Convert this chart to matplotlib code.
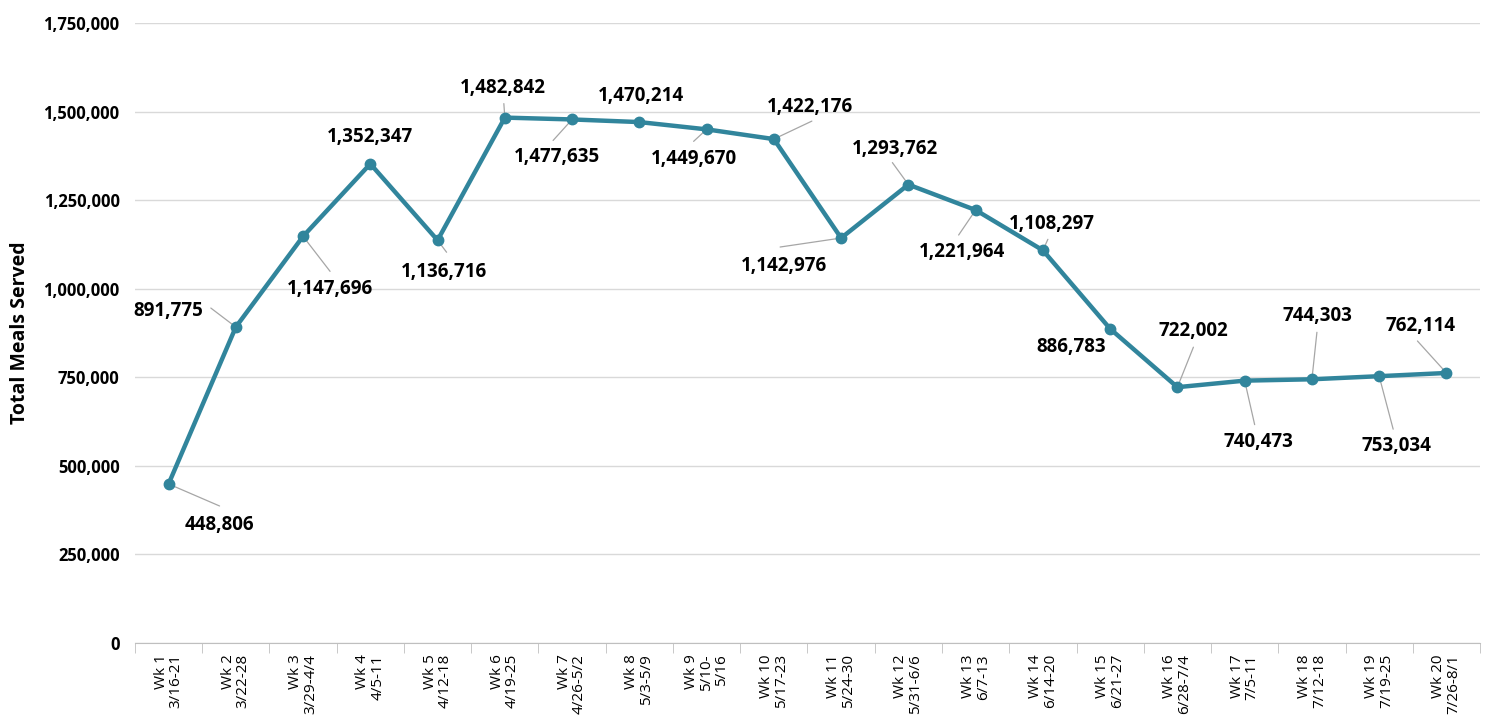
import matplotlib.pyplot as plt
from matplotlib.ticker import FuncFormatter, MultipleLocator

weeks = ["Wk 1\n3/16-21", "Wk 2\n3/22-28", "Wk 3\n3/29-4/4", "Wk 4\n4/5-11",
         "Wk 5\n4/12-18", "Wk 6\n4/19-25", "Wk 7\n4/26-5/2", "Wk 8\n5/3-5/9",
         "Wk 9\n5/10-\n5/16", "Wk 10\n5/17-23", "Wk 11\n5/24-30", "Wk 12\n5/31-6/6",
         "Wk 13\n6/7-13", "Wk 14\n6/14-20", "Wk 15\n6/21-27", "Wk 16\n6/28-7/4",
         "Wk 17\n7/5-11", "Wk 18\n7/12-18", "Wk 19\n7/19-25", "Wk 20\n7/26-8/1"]
meals = [448806, 891775, 1147696, 1352347, 1136716, 1482842, 1477635, 1470214,
         1449670, 1422176, 1142976, 1293762, 1221964, 1108297, 886783, 722002,
         740473, 744303, 753034, 762114]

# label placement (pixel offsets from the point): label centre, leader-line end
label_off = [(51, -41), (-68, 16), (27, -53), (0, 27), (6, -32), (-2, 30), (-15, -38),
             (2, 26), (-13, -30), (36, 32), (-57, -28), (-13, 36), (-14, -42), (9, 26),
             (-39, -18), (16, 56), (14, -61), (6, 63), (17, -70), (-26, 47)]
leader_off = [(51, -22), (-25, 19), (27, -35), None, (9, -12), (-1, 14), (-19, -21),
              None, (-13, -12), (38, 18), (-61, -9), (-16, 22), (-17, -25), (5, 11),
              None, (16, 40), (10, -44), (5, 47), (14, -53), (-29, 32)]

line_color = "#31859C"
plt.rcParams['font.family'] = ['Open Sans', 'DejaVu Sans']

fig = plt.figure(figsize=(14.86, 7.17), dpi=100)
ax = fig.add_axes([0.0908, 0.1032, 0.9052, 0.8648])

x = list(range(len(meals)))
ax.plot(x, meals, color=line_color, linewidth=3.2, marker='o', markersize=7.5, zorder=3)

for i, v in enumerate(meals):
    if leader_off[i] is not None:
        ax.annotate("", xy=(i, v), xytext=leader_off[i], textcoords='offset pixels',
                    arrowprops=dict(arrowstyle='-', color='#A6A6A6', lw=0.9,
                                    shrinkA=0, shrinkB=3), zorder=2)
    ax.annotate(f"{v:,}", xy=(i, v), xytext=label_off[i], textcoords='offset pixels',
                ha='center', va='center', fontsize=13.5, fontweight='bold', color='black')

ax.set_ylim(0, 1750000)
ax.set_xlim(-0.5, len(meals) - 0.5)
ax.yaxis.set_major_locator(MultipleLocator(250000))
ax.yaxis.set_major_formatter(FuncFormatter(lambda v, p: f"{int(v):,}"))
ax.grid(axis='y', color='#D9D9D9', linewidth=1)
ax.set_axisbelow(True)

ax.set_xticks(x)
ax.set_xticklabels(weeks, rotation=90, ha='center', va='top', multialignment='right',
                   fontsize=11, linespacing=1.0)
ax.set_xticks([i - 0.5 for i in range(len(meals) + 1)], minor=True)
ax.tick_params(axis='x', which='major', length=0, pad=8)
ax.tick_params(axis='x', which='minor', length=7, color='#BFBFBF')
ax.tick_params(axis='y', length=0, pad=11, labelsize=12)
for lab in ax.get_yticklabels():
    lab.set_fontweight('bold')

for s in ['top', 'right', 'left']:
    ax.spines[s].set_visible(False)
ax.spines['bottom'].set_color('#BFBFBF')

ax.set_ylabel("Total Meals Served", fontsize=14, fontweight='bold', labelpad=10)

plt.savefig("out.png", dpi=100)
